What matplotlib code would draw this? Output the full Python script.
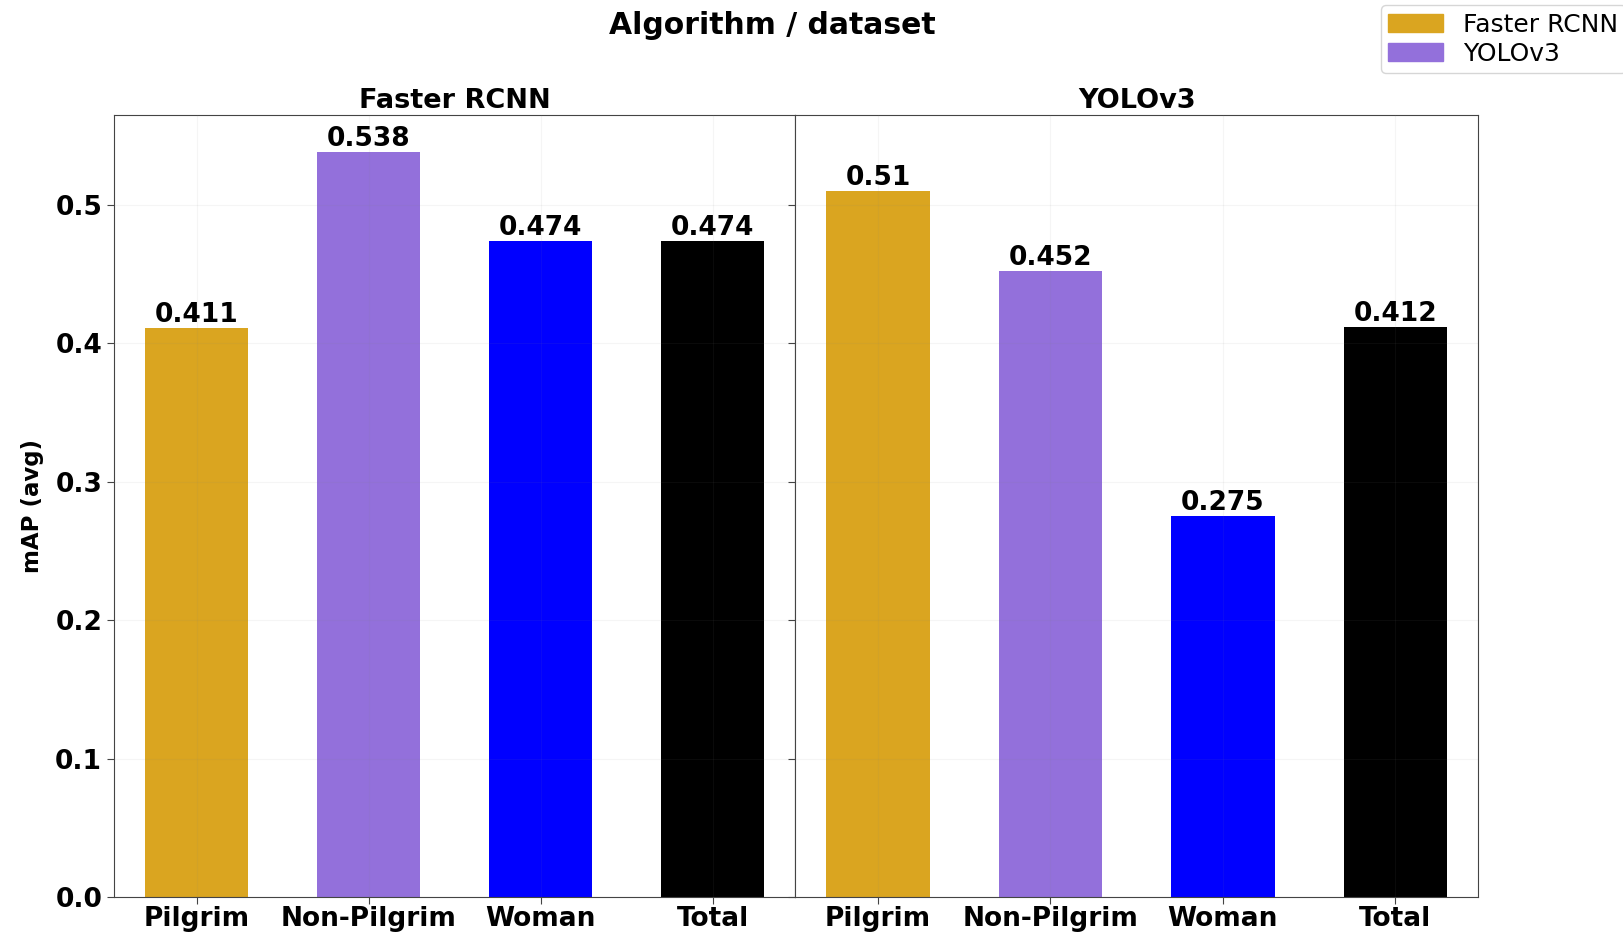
import matplotlib.pyplot as plt
from matplotlib.patches import Patch

datasets = ['Pilgrim', 'Non-Pilgrim', 'Woman', 'Total']
algorithms = ['Faster RCNN', 'YOLOv3']
faster_rcnn = [0.411, 0.538, 0.474, 0.474]
yolov3 = [0.51, 0.452, 0.275, 0.412]
colors = ['goldenrod', 'mediumpurple', 'blue', 'black']

plt.rcParams['font.weight'] = 'bold'
plt.rcParams['axes.edgecolor'] = '#444444'

fig = plt.figure(figsize=(16.23, 9.33), dpi=100)
ax1 = fig.add_axes([0.0702, 0.0386, 0.4198, 0.8381])
ax2 = fig.add_axes([0.4900, 0.0386, 0.4207, 0.8381], sharey=ax1)

for ax, name, vals in zip([ax1, ax2], algorithms, [faster_rcnn, yolov3]):
    bars = ax.bar(datasets, vals, width=0.6, color=colors)
    ax.bar_label(bars, labels=[f'{v:g}' for v in vals], fontsize=19, fontweight='bold', padding=0)
    ax.set_title(name, fontsize=19.5, fontweight='bold', pad=5)
    ax.grid(True, alpha=0.08, color='gray', linewidth=0.8)
    ax.set_axisbelow(False)
    ax.tick_params(axis='both', labelsize=19, length=5, color='#444444')
    ax.tick_params(axis='x', pad=1.5)
    for lbl in ax.get_xticklabels() + ax.get_yticklabels():
        lbl.set_fontweight('bold')

ax1.set_ylim(0, 0.565)
ax1.set_ylabel('mAP (avg)', fontsize=16.5, fontweight='bold', labelpad=8)
plt.setp(ax2.get_yticklabels(), visible=False)

fig.suptitle('Algorithm / dataset', x=0.476, y=0.988, fontsize=21.5, fontweight='bold')

handles = [Patch(color='goldenrod'), Patch(color='mediumpurple')]
leg = fig.legend(handles, algorithms, loc='upper left', bbox_to_anchor=(0.843, 1.008),
                 prop={'size': 18, 'weight': 'normal'}, labelspacing=0.2,
                 handlelength=2.2, borderpad=0.3)

fig.savefig('out.png', dpi=100)
